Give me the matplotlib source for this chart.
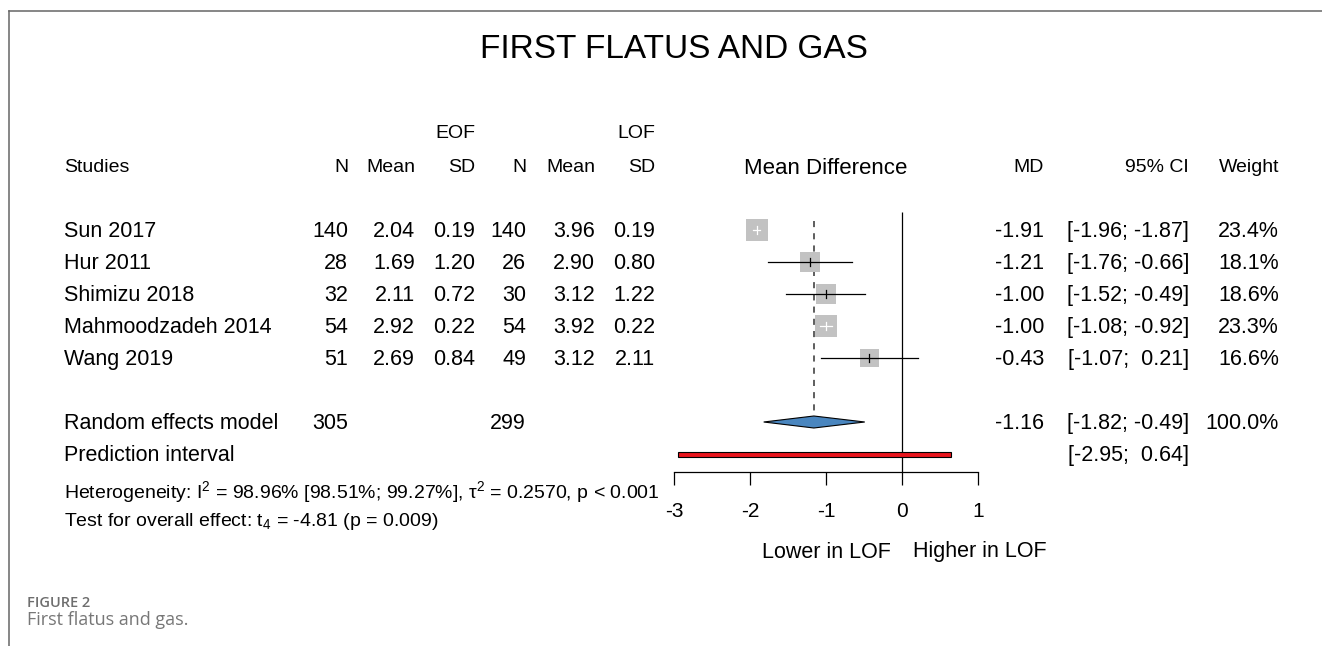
import numpy as np
import matplotlib
matplotlib.use("Agg")
import matplotlib.pyplot as plt
from matplotlib.patches import Polygon, Rectangle

plt.rcParams['font.family'] = ['Liberation Sans', 'DejaVu Sans']
plt.rcParams['mathtext.fontset'] = 'custom'
plt.rcParams['mathtext.rm'] = 'Liberation Sans'
plt.rcParams['mathtext.it'] = 'Liberation Sans:italic'

# data
studies = ["Sun 2017", "Hur 2011", "Shimizu 2018", "Mahmoodzadeh 2014", "Wang 2019"]
n_eof = [140, 28, 32, 54, 51]
mean_eof = [2.04, 1.69, 2.11, 2.92, 2.69]
sd_eof = [0.19, 1.20, 0.72, 0.22, 0.84]
n_lof = [140, 26, 30, 54, 49]
mean_lof = [3.96, 2.90, 3.12, 3.92, 3.12]
sd_lof = [0.19, 0.80, 1.22, 0.22, 2.11]
md = [-1.91, -1.21, -1.00, -1.00, -0.43]
ci_lo = [-1.96, -1.76, -1.52, -1.08, -1.07]
ci_hi = [-1.87, -0.66, -0.49, -0.92, 0.21]
weight = [23.4, 18.1, 18.6, 23.3, 16.6]
pooled_n = [305, 299]
pooled_md = -1.16
pooled_ci = [-1.82, -0.49]
pred_ci = [-2.95, 0.64]
xticks = [-3, -2, -1, 0, 1]

W, H = 1322, 646
fig = plt.figure(figsize=(W / 100, H / 100), dpi=100)

# overlay in pixel units for text and frame
bg = fig.add_axes([0, 0, 1, 1])
bg.set_xlim(0, W)
bg.set_ylim(H, 0)
bg.axis('off')

# forest panel: rows 0..7, -3..1 on x
row0, dy = 230, 32
x_left, x_right = 674, 978
y_top_row, y_bot_row = -0.6, 7.5625
ax = fig.add_axes([x_left / W, 1 - (row0 + dy * y_bot_row) / H,
                   (x_right - x_left) / W, dy * (y_bot_row - y_top_row) / H])
ax.set_xlim(-3, 1)
ax.set_ylim(y_bot_row, y_top_row)
ax.patch.set_alpha(0)
for s in ['left', 'top', 'right']:
    ax.spines[s].set_visible(False)
ax.spines['bottom'].set_linewidth(0.9)
ax.set_yticks([])
ax.set_xticks(xticks)
ax.set_xticklabels([str(t) for t in xticks])
ax.tick_params(axis='x', direction='out', length=9.4, width=0.9, pad=12, labelsize=15)

px_per_unit = (x_right - x_left) / 4.0
rows = np.arange(len(studies))

ax.vlines(0, -0.55, y_bot_row, color='black', lw=0.9, clip_on=False)
ax.vlines(pooled_md, -0.28, 5.75, color='#333333', lw=1.1, linestyles=(0, (4, 4)), clip_on=False)

sides = [22 * np.sqrt(w / 23.4) for w in weight]
ax.scatter(md, rows, marker='s', s=[(sd * 0.72) ** 2 for sd in sides],
           color='#c2c2c2', linewidths=0, zorder=3, clip_on=False)
for i in rows:
    half = sides[i] / 2 / px_per_unit
    inside = (ci_lo[i] > md[i] - half) and (ci_hi[i] < md[i] + half)
    col = 'white' if inside else 'black'
    ax.plot([ci_lo[i], ci_hi[i]], [i, i], color=col, lw=0.9, zorder=4, clip_on=False)
    ax.plot([md[i], md[i]], [i - 0.11, i + 0.11], color=col, lw=0.9, zorder=4, clip_on=False)

h = 6.0 / dy
ax.add_patch(Polygon([(pooled_ci[0], 6), (pooled_md, 6 - h), (pooled_ci[1], 6), (pooled_md, 6 + h)],
                     closed=True, facecolor='#4a86bf', edgecolor='black', lw=0.8, zorder=3, clip_on=False))
bh = 5.0 / dy
ax.add_patch(Rectangle((pred_ci[0], 7 - bh / 2), pred_ci[1] - pred_ci[0], bh,
                       facecolor='#e8141c', edgecolor='black', lw=0.8, zorder=3, clip_on=False))

# frame lines
bg.plot([9, 9], [11, H], color='#666666', lw=1.1)
bg.plot([9, W], [11, 11], color='#666666', lw=1.1)

fs = 15.5
bg.text(674, 50, "FIRST FLATUS AND GAS", fontsize=24, ha='center', va='center')

col_x = {'n1': 348, 'm1': 415, 's1': 475, 'n2': 526, 'm2': 595, 's2': 655,
         'md': 1044, 'ci': 1189, 'w': 1279}
hy1, hy2 = 134, 168
bg.text(col_x['s1'], hy1, "EOF", fontsize=fs - 1.5, ha='right', va='center')
bg.text(col_x['s2'], hy1, "LOF", fontsize=fs - 1.5, ha='right', va='center')
bg.text(64, hy2, "Studies", fontsize=fs - 1.5, ha='left', va='center')
for key, lab in [('n1', 'N'), ('m1', 'Mean'), ('s1', 'SD'), ('n2', 'N'), ('m2', 'Mean'),
                 ('s2', 'SD'), ('md', 'MD'), ('ci', '95% CI'), ('w', 'Weight')]:
    bg.text(col_x[key], hy2, lab, fontsize=fs - 1.5, ha='right', va='center')
bg.text(826, hy2, "Mean Difference", fontsize=fs + 0.5, ha='center', va='center')

for i, name in enumerate(studies):
    y = row0 + dy * i + 1.5
    bg.text(64, y, name, fontsize=fs, ha='left', va='center')
    vals = [('n1', f"{n_eof[i]}"), ('m1', f"{mean_eof[i]:.2f}"), ('s1', f"{sd_eof[i]:.2f}"),
            ('n2', f"{n_lof[i]}"), ('m2', f"{mean_lof[i]:.2f}"), ('s2', f"{sd_lof[i]:.2f}"),
            ('md', f"{md[i]:.2f}"), ('ci', f"[{ci_lo[i]:5.2f}; {ci_hi[i]:5.2f}]"),
            ('w', f"{weight[i]:.1f}%")]
    for key, s in vals:
        bg.text(col_x[key], y, s, fontsize=fs, ha='right', va='center')

y = row0 + dy * 6 + 1.5
bg.text(64, y, "Random effects model", fontsize=fs, ha='left', va='center')
bg.text(col_x['n1'], y, f"{pooled_n[0]}", fontsize=fs, ha='right', va='center')
bg.text(col_x['n2'], y, f"{pooled_n[1]}", fontsize=fs, ha='right', va='center')
bg.text(col_x['md'], y, f"{pooled_md:.2f}", fontsize=fs, ha='right', va='center')
bg.text(col_x['ci'], y, f"[{pooled_ci[0]:5.2f}; {pooled_ci[1]:5.2f}]", fontsize=fs, ha='right', va='center')
bg.text(col_x['w'], y, "100.0%", fontsize=fs, ha='right', va='center')
y = row0 + dy * 7 + 1.5
bg.text(64, y, "Prediction interval", fontsize=fs, ha='left', va='center')
bg.text(col_x['ci'], y, f"[{pred_ci[0]:5.2f}; {pred_ci[1]:5.2f}]", fontsize=fs, ha='right', va='center')

fs2 = 14
bg.text(64, 492, r"Heterogeneity: $\mathregular{I^2}$ = 98.96% [98.51%; 99.27%], "
        r"$\mathregular{\tau^2}$ = 0.2570, p < 0.001", fontsize=fs2, ha='left', va='center')
bg.text(64, 522, r"Test for overall effect: $\mathregular{t_4}$ = -4.81 (p = 0.009)",
        fontsize=fs2, ha='left', va='center')

bg.text(891, 552, "Lower in LOF", fontsize=fs, ha='right', va='center')
bg.text(913, 552, "Higher in LOF", fontsize=fs, ha='left', va='center')

bg.text(27, 603, "FIGURE 2", fontsize=10.5, ha='left', va='center', color='#6e6e6e',
        family=['Open Sans', 'DejaVu Sans'], fontweight='semibold')
bg.text(27, 620, "First flatus and gas.", fontsize=13, ha='left', va='center', color='#777777',
        family=['Open Sans', 'DejaVu Sans'])

fig.savefig("out.png", dpi=100)
